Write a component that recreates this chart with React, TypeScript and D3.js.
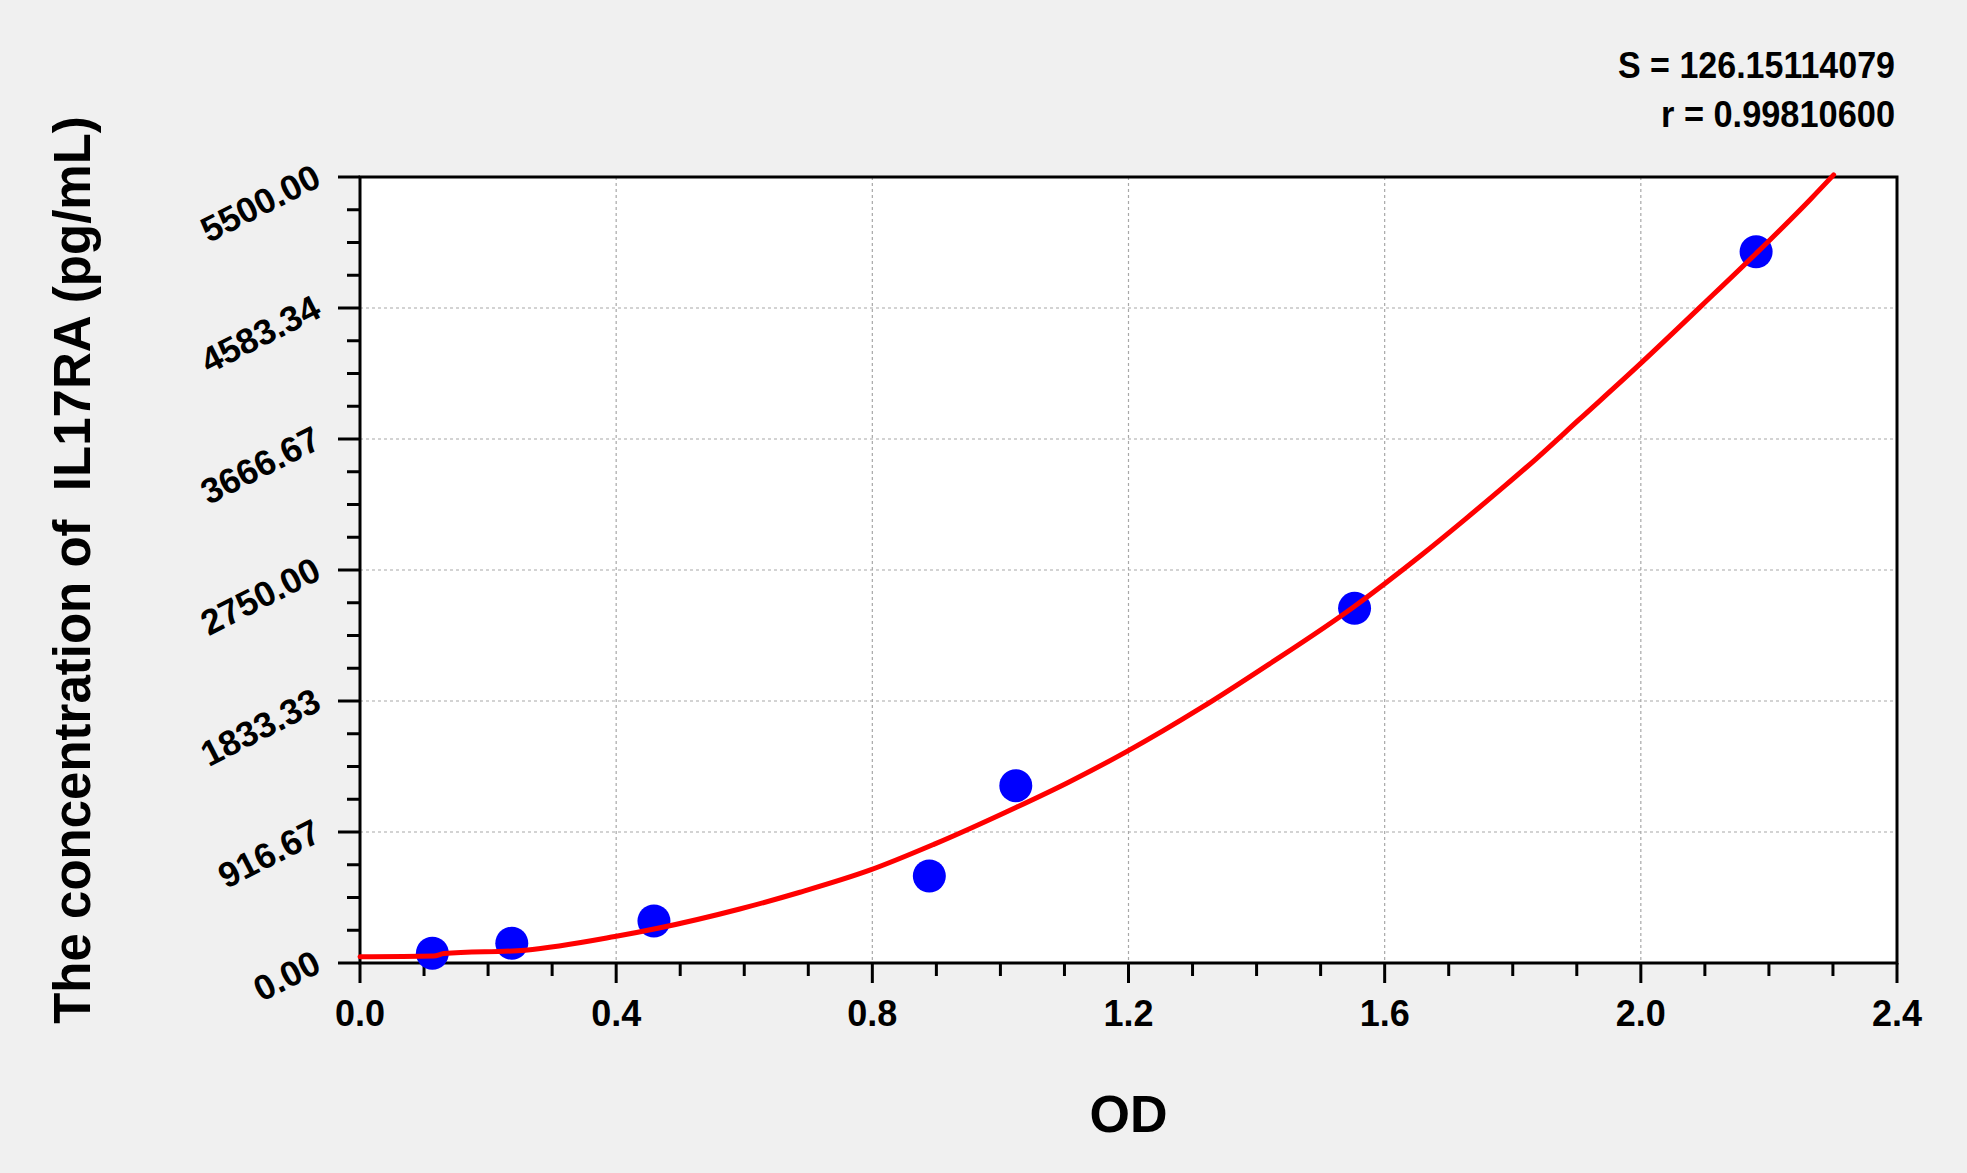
import React, { useEffect, useRef } from 'react';
import * as d3 from 'd3';

// standards
const standardOD = [0.113, 0.237, 0.459, 0.889, 1.024, 1.553, 2.18];
const standardConc = [68, 138, 294, 609, 1241, 2482, 4977];

// fitted curve
const fitOD = [0, 0.115, 0.131, 0.258, 0.398, 0.465, 0.593, 0.687, 0.797, 0.896, 1.025, 1.105, 1.197, 1.315, 1.419, 1.551, 1.656, 1.727, 1.788, 1.837, 1.903, 1.996, 2.095, 2.18, 2.265, 2.301];
const fitConc = [44, 49, 66, 90, 185, 243, 378, 495, 651, 830, 1090, 1262, 1479, 1790, 2090, 2490, 2850, 3110, 3340, 3530, 3800, 4180, 4600, 4965, 5345, 5515];

const xMajorTicks = [0, 0.4, 0.8, 1.2, 1.6, 2.0, 2.4];
const xTickLabels = ['0.0', '0.4', '0.8', '1.2', '1.6', '2.0', '2.4'];
const yMajorTicks = [0, 916.67, 1833.33, 2750, 3666.67, 4583.34, 5500];
const yTickLabels = ['0.00', '916.67', '1833.33', '2750.00', '3666.67', '4583.34', '5500.00'];

const statLines = ['S = 126.15114079', 'r = 0.99810600'];

const W = 1967;
const H = 1173;
const FONT = '"Liberation Sans", Arial, Helvetica, sans-serif';

const App: React.FC = () => {
    const svgRef = useRef<SVGSVGElement>(null);

    useEffect(() => {
        if (!svgRef.current) return;
        const svg = d3.select(svgRef.current);
        svg.selectAll('*').remove();

        const left = 360, right = 1897, top = 177, bottom = 963;
        const x = d3.scaleLinear().domain([0, 2.4]).range([left, right]);
        const y = d3.scaleLinear().domain([0, 5500]).range([bottom, top]);

        svg.append('rect').attr('width', W).attr('height', H).attr('fill', '#f0f0f0');
        svg.append('rect')
            .attr('x', left).attr('y', top)
            .attr('width', right - left).attr('height', bottom - top)
            .attr('fill', '#ffffff');

        // grid
        const grid = svg.append('g')
            .attr('stroke', '#a8a8a8')
            .attr('stroke-width', 1.2)
            .attr('stroke-dasharray', '3,3');
        grid.selectAll('line.gx')
            .data(xMajorTicks.slice(1, -1))
            .join('line')
            .attr('x1', d => x(d)).attr('x2', d => x(d))
            .attr('y1', top).attr('y2', bottom);
        grid.selectAll('line.gy')
            .data(yMajorTicks.slice(1, -1))
            .join('line')
            .attr('x1', left).attr('x2', right)
            .attr('y1', d => y(d)).attr('y2', d => y(d));

        // minor ticks
        const xMinor = d3.range(0, 24).map(i => i / 10).filter((_, i) => i % 4 !== 0);
        const yMinor = d3.range(0, 24).map(i => (5500 / 24) * i).filter((_, i) => i % 4 !== 0);

        const ticks = svg.append('g').attr('stroke', '#000').attr('stroke-width', 3);
        ticks.selectAll('line.xmaj')
            .data(xMajorTicks).join('line')
            .attr('x1', d => x(d)).attr('x2', d => x(d))
            .attr('y1', bottom).attr('y2', bottom + 20);
        ticks.selectAll('line.xmin')
            .data(xMinor).join('line')
            .attr('x1', d => x(d)).attr('x2', d => x(d))
            .attr('y1', bottom).attr('y2', bottom + 13);
        ticks.selectAll('line.ymaj')
            .data(yMajorTicks).join('line')
            .attr('x1', left - 22).attr('x2', left)
            .attr('y1', d => y(d)).attr('y2', d => y(d));
        ticks.selectAll('line.ymin')
            .data(yMinor).join('line')
            .attr('x1', left - 13).attr('x2', left)
            .attr('y1', d => y(d)).attr('y2', d => y(d));

        // frame
        svg.append('rect')
            .attr('x', left).attr('y', top)
            .attr('width', right - left).attr('height', bottom - top)
            .attr('fill', 'none')
            .attr('stroke', '#000')
            .attr('stroke-width', 3);

        // x tick labels
        svg.append('g').selectAll('text')
            .data(xMajorTicks).join('text')
            .attr('x', d => x(d))
            .attr('y', bottom + 63)
            .attr('text-anchor', 'middle')
            .attr('font-family', FONT)
            .attr('font-weight', 'bold')
            .attr('font-size', 36)
            .text((_, i) => xTickLabels[i]);

        // y tick labels (slanted)
        svg.append('g').selectAll('text')
            .data(yMajorTicks).join('text')
            .attr('transform', d => `translate(${left - 37},${y(d) + 8}) rotate(-27)`)
            .attr('text-anchor', 'end')
            .attr('font-family', FONT)
            .attr('font-weight', 'bold')
            .attr('font-size', 35.5)
            .text((_, i) => yTickLabels[i]);

        // points
        svg.append('g').selectAll('circle')
            .data(standardOD).join('circle')
            .attr('cx', d => x(d))
            .attr('cy', (_, i) => y(standardConc[i]))
            .attr('r', 16.5)
            .attr('fill', '#0000ff');

        // fitted curve
        const line = d3.line<number>()
            .x(d => x(d))
            .y((_, i) => y(fitConc[i]))
            .curve(d3.curveMonotoneX);
        svg.append('path')
            .attr('d', line(fitOD))
            .attr('fill', 'none')
            .attr('stroke', '#ff0000')
            .attr('stroke-width', 5)
            .attr('stroke-linejoin', 'round')
            .attr('stroke-linecap', 'round');

        // axis titles
        svg.append('text')
            .attr('x', (left + right) / 2)
            .attr('y', 1132)
            .attr('text-anchor', 'middle')
            .attr('font-family', FONT)
            .attr('font-weight', 'bold')
            .attr('font-size', 52)
            .text('OD');

        svg.append('text')
            .attr('transform', `translate(90,${(top + bottom) / 2}) rotate(-90)`)
            .attr('text-anchor', 'middle')
            .attr('font-family', FONT)
            .attr('font-weight', 'bold')
            .attr('font-size', 51)
            .style('white-space', 'pre')
            .text('The concentration of  IL17RA (pg/mL)');

        // fit statistics
        const statWidths = [277, 234];
        const statBase = [78, 127];
        svg.append('g').selectAll('text')
            .data(statLines).join('text')
            .attr('x', (_, i) => 1895 - statWidths[i])
            .attr('y', (_, i) => statBase[i])
            .attr('textLength', (_, i) => statWidths[i])
            .attr('lengthAdjust', 'spacingAndGlyphs')
            .attr('font-family', FONT)
            .attr('font-weight', 'bold')
            .attr('font-size', 37)
            .style('white-space', 'pre')
            .text(d => d);
    }, []);

    return (
        <svg
            ref={svgRef}
            width={W}
            height={H}
            viewBox={`0 0 ${W} ${H}`}
            style={{ position: 'absolute', left: 0, top: 0, display: 'block' }}
        />
    );
};

export default App;
